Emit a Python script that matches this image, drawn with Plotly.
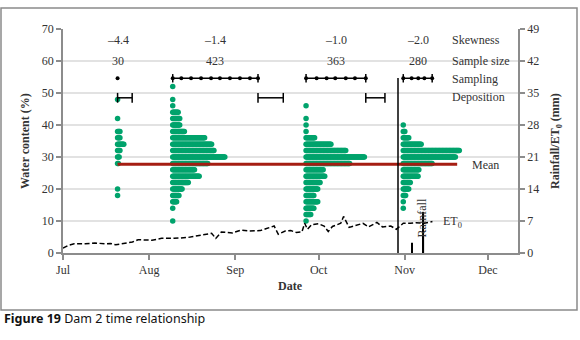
import datetime as dt
import plotly.graph_objects as go

# ---------------- data ----------------
base = dt.datetime(2013, 7, 1)
month_ticks = ["Jul", "Aug", "Sep", "Oct", "Nov", "Dec"]
month_dates = [dt.datetime(2013, m, 1) for m in range(7, 13)]

# water-content dot plots (bin centre %, number of samples), start day offset
dist_start = [19.65, 39.5, 87.5, 122.5]
g1_bins = [48, 42, 38, 36, 34, 32, 30, 28, 20, 18]
g1_counts = [1, 1, 4, 4, 9, 4, 3, 2, 1, 1]
g2_bins = [52, 48, 46, 44, 42, 40, 38, 36, 34, 32, 30, 28, 26, 24, 22, 20, 18, 16, 14, 10]
g2_counts = [1, 1, 1, 8, 10, 10, 16, 42, 51, 54, 68, 46, 29, 35, 21, 13, 9, 6, 1, 1]
g3_bins = [46, 42, 40, 38, 36, 34, 32, 30, 28, 26, 24, 22, 20, 18, 16, 14, 12, 10]
g3_counts = [1, 1, 1, 1, 12, 33, 52, 76, 57, 23, 25, 19, 16, 11, 16, 11, 7, 1]
g4_bins = [40, 38, 36, 34, 32, 30, 28, 26, 24, 22, 20, 18, 16, 14]
g4_counts = [1, 3, 8, 24, 73, 68, 38, 21, 20, 10, 8, 4, 1, 1]

skewness = ["\u20134.4", "\u20131.4", "\u20131.0", "\u20132.0"]
sample_size = [30, 423, 363, 280]

# sampling days (day offsets from 1 July)
samp1 = [19.65]
samp2 = [39.5, 42.6, 46.1, 49.7, 53.3, 56.5, 60.1, 63.7, 67.3, 70.2]
samp3 = [87.5, 91.3, 94.9, 98.0, 101.8, 105.1, 109.0]
samp4 = [122.5, 125.5, 127.9, 130.1, 132.9]
sampling_level = 54.6

# deposition periods
dep_start = [19.65, 70.2, 109.0]
dep_end = [24.9, 79.3, 115.9]
deposition_level = 48.5

mean_wc = 27.7
mean_span = [19.65, 141.9]

event_day = 120.6
event_top = 54.7

rain_days = [125.7, 129.7]
rain_mm = [2.25, 9.0]

et_days = [0, 2, 4, 8, 11.5, 15, 17, 19, 21, 25, 27, 32, 35.5, 40, 45, 50, 53.5, 55, 57, 61,
           64, 67, 71, 73, 76, 77.5, 80, 82, 84, 86, 87, 88, 89.5, 92, 94, 95.5, 97, 100, 101,
           103, 105, 108, 110, 113, 115, 118, 120, 122.5, 125, 127, 130, 133]
et_mm = [1.05, 1.7, 2.0, 2.0, 2.2, 2.0, 2.1, 1.8, 2.0, 2.4, 2.9, 2.8, 3.2, 3.2, 3.4, 3.9, 4.3,
         3.2, 4.6, 4.4, 5.0, 4.8, 4.9, 5.3, 5.9, 4.1, 4.8, 4.9, 4.5, 4.6, 6.5, 5.2, 6.2, 6.4,
         5.9, 4.7, 5.8, 6.5, 8.0, 5.6, 5.9, 6.5, 5.7, 6.7, 5.7, 5.9, 5.2, 6.5, 6.5, 6.6, 6.5, 6.9]

# ---------------- helpers ----------------
def D(d):
    return base + dt.timedelta(days=d)

GREEN = "#00a36c"
RED = "#a51d12"
TXT = "#333333"
AX = "#8c8c8c"
SERIF = "Liberation Serif"
DOT_STEP = 0.28  # days between stacked dots

L, R, T, B = 63, 518, 29, 253
W, H = 580, 340

def px(x):
    return (x - L) / (R - L)

def py(y):
    return (B - y) / (B - T)

fig = go.Figure()

# dot plots
for start, bins, counts in zip(dist_start,
                               [g1_bins, g2_bins, g3_bins, g4_bins],
                               [g1_counts, g2_counts, g3_counts, g4_counts]):
    xs, ys = [], []
    for b, c in zip(bins, counts):
        for k in range(c):
            xs.append(D(start + k * DOT_STEP))
            ys.append(b)
    fig.add_trace(go.Scatter(x=xs, y=ys, mode="markers",
                             marker=dict(size=5.5, color=GREEN, line=dict(width=0)),
                             hoverinfo="skip", showlegend=False))

# mean line
fig.add_trace(go.Scatter(x=[D(mean_span[0]), D(mean_span[1])], y=[mean_wc, mean_wc],
                         mode="lines", line=dict(color=RED, width=3), showlegend=False))

# event vertical line
fig.add_trace(go.Scatter(x=[D(event_day), D(event_day)], y=[0, event_top], mode="lines",
                         line=dict(color="black", width=1.5), showlegend=False))

# sampling periods
for s in [samp1, samp2, samp3, samp4]:
    xs = [D(v) for v in s]
    ys = [sampling_level] * len(s)
    fig.add_trace(go.Scatter(x=xs, y=ys, mode="lines+markers",
                             line=dict(color="black", width=1.5),
                             marker=dict(size=4, color="black"), showlegend=False))
    if len(s) > 1:
        fig.add_trace(go.Scatter(x=[xs[0], xs[-1]], y=[sampling_level] * 2, mode="markers",
                                 marker=dict(symbol="line-ns", size=6,
                                             line=dict(color="black", width=1.5)),
                                 showlegend=False))

# deposition periods
for a, b in zip(dep_start, dep_end):
    fig.add_trace(go.Scatter(x=[D(a), D(b)], y=[deposition_level] * 2, mode="lines+markers",
                             line=dict(color="black", width=1.5),
                             marker=dict(symbol="line-ns", size=7,
                                         line=dict(color="black", width=1.5)),
                             showlegend=False))

# rainfall bars
fig.add_trace(go.Bar(x=[D(v) for v in rain_days], y=rain_mm, yaxis="y2",
                     width=0.6 * 86400000, marker=dict(color="black", line=dict(width=0)),
                     showlegend=False))

# ET0
fig.add_trace(go.Scatter(x=[D(v) for v in et_days], y=et_mm, yaxis="y2", mode="lines",
                         line=dict(color="black", width=1.5, dash="5px,2.5px"),
                         showlegend=False))

ann = []
def add_text(text, x, y, xanchor="center", size=12, xref="x", yref="y", bold=False,
             angle=0, family=SERIF, color=TXT):
    ann.append(dict(text=("<b>%s</b>" % text) if bold else text, x=x, y=y, xref=xref,
                    yref=yref, xanchor=xanchor, yanchor="middle", showarrow=False,
                    textangle=angle, font=dict(family=family, size=size, color=color)))

for s, sk, n in zip([samp1, samp2, samp3, samp4], skewness, sample_size):
    mid = D((s[0] + s[-1]) / 2)
    add_text(sk, mid, 66.6)
    add_text(str(n), mid, 60.0)

add_text("Skewness", D(139.3), 66.6, xanchor="left")
add_text("Sample size", D(139.3), 60.0, xanchor="left")
add_text("Sampling", D(139.3), 54.5, xanchor="left")
add_text("Deposition", D(139.3), 48.7, xanchor="left")
add_text("Mean", D(146.4), 27.4, xanchor="left")
add_text("ET<sub>0</sub>", D(136.1), 9.6, xanchor="left")
add_text("Rainfall", D(129.1), 11.0, angle=-90)

add_text("Water content (%)", px(25), 0.5, xref="paper", yref="paper", bold=True, angle=-90)
add_text("Rainfall/ET<sub>0</sub> (mm)", px(556), 0.5, xref="paper", yref="paper",
         bold=True, angle=-90)
add_text("Date", 0.5, py(286), xref="paper", yref="paper", bold=True)
add_text("<b>Figure 19</b> Dam 2 time relationship", px(2), py(318.5), xref="paper",
         yref="paper", xanchor="left", family="Noto Sans", size=12.5, color="#111111")

axis_common = dict(showline=True, linecolor=AX, linewidth=1.5, ticks="outside", ticklen=5,
                   tickwidth=1.5, tickcolor=AX, tickfont=dict(family=SERIF, size=12, color=TXT),
                   zeroline=False, automargin=False)

fig.update_layout(
    template="none",
    width=W, height=H,
    margin=dict(l=L, r=W - R, t=T, b=H - B, pad=0, autoexpand=False),
    plot_bgcolor="white", paper_bgcolor="white",
    showlegend=False,
    xaxis=dict(type="date", range=[D(0), D(163.8)], tickvals=month_dates,
               ticktext=month_ticks, showgrid=False, **axis_common),
    yaxis=dict(range=[0, 70], tickvals=list(range(0, 71, 10)), showgrid=True,
               gridcolor="#e2e2e2", gridwidth=1.5, **axis_common),
    yaxis2=dict(range=[0, 49], tickvals=list(range(0, 50, 7)), overlaying="y", side="right",
                showgrid=False, **axis_common),
    annotations=ann,
    shapes=[dict(type="rect", xref="paper", yref="paper", x0=px(1), x1=px(577),
                 y0=py(310), y1=py(8), line=dict(color="#8a8a8a", width=1.5),
                 fillcolor="rgba(0,0,0,0)")],
)

fig.write_html("out.html", config={"displayModeBar": False},
               post_script="document.body.style.margin='0';document.body.style.overflow='hidden';")
